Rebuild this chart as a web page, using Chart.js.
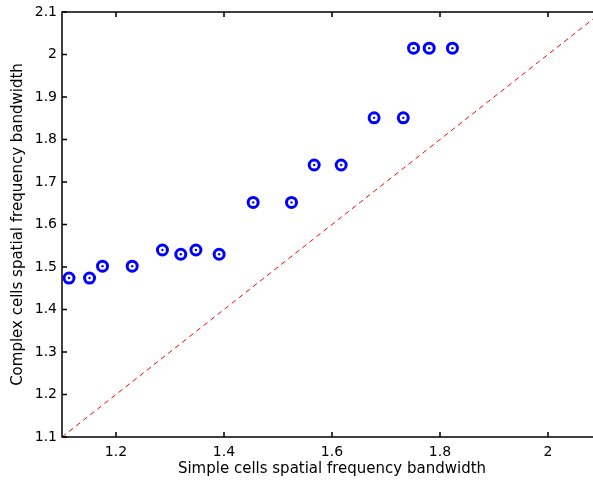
<!DOCTYPE html>
<html>
<head>
<meta charset="utf-8">
<script src="https://cdn.jsdelivr.net/npm/chart.js@4"></script>
<style>
  html, body { margin: 0; padding: 0; background: #fff; overflow: hidden; }
  #wrap { width: 593px; height: 480px; overflow: hidden; }
  canvas { display: block; }
</style>
</head>
<body>
<!-- axes run to x = 2.1, a bit past the visible right edge -->
<div id="wrap"><canvas id="myChart" width="602" height="480" style="width:602px;height:480px"></canvas></div>
<script>
// bandwidth pairs
const simpleBw = [1.113, 1.151, 1.175, 1.230, 1.286, 1.320, 1.348, 1.391, 1.454, 1.525, 1.567, 1.617, 1.678, 1.732, 1.751, 1.780, 1.823]
const complexBw = [1.474, 1.474, 1.502, 1.502, 1.540, 1.530, 1.540, 1.530, 1.652, 1.652, 1.740, 1.740, 1.851, 1.851, 2.015, 2.015, 2.015]
const diagonal = [1.1, 2.1]
const xTicks = [1.2, 1.4, 1.6, 1.8, 2]
const yTicks = [1.1, 1.2, 1.3, 1.4, 1.5, 1.6, 1.7, 1.8, 1.9, 2, 2.1]

const fontFamily = "'DejaVu Sans', sans-serif"

const points = simpleBw.map((x, i) => ({ x: x, y: complexBw[i] }))
const diagPoints = diagonal.map(v => ({ x: v, y: v }))

// matlab style box with inward ticks
const boxPlugin = {
    id: "box",
    afterDraw(chart) {
        const ctx = chart.ctx
        const area = chart.chartArea
        const xs = chart.scales.x
        const ys = chart.scales.y
        const len = 5
        ctx.save()
        ctx.strokeStyle = "#000"
        ctx.lineWidth = 1.5
        ctx.beginPath()
        xTicks.forEach(v => {
            const px = xs.getPixelForValue(v)
            ctx.moveTo(px, area.bottom)
            ctx.lineTo(px, area.bottom - len)
            ctx.moveTo(px, area.top)
            ctx.lineTo(px, area.top + len)
        })
        yTicks.forEach(v => {
            const py = ys.getPixelForValue(v)
            ctx.moveTo(area.left, py)
            ctx.lineTo(area.left + len, py)
            ctx.moveTo(area.right, py)
            ctx.lineTo(area.right - len, py)
        })
        ctx.stroke()
        ctx.strokeRect(area.left, area.top, area.right - area.left, area.bottom - area.top)
        ctx.restore()
    }
}

function fmt(v) {
    return String(Number(v.toFixed(1)))
}

new Chart("myChart", {
    type: "scatter",
    data: {
        datasets: [{
            data: diagPoints,
            showLine: true,
            borderColor: "#ff0000",
            borderWidth: 1,
            borderDash: [5, 4],
            pointRadius: 0,
            order: 3
        }, {
            data: points,
            pointStyle: "circle",
            pointRadius: 5,
            borderColor: "#0000ff",
            backgroundColor: "#ffffff",
            borderWidth: 3,
            order: 2
        }, {
            data: points,
            pointRadius: 1.2,
            borderWidth: 0,
            backgroundColor: "#0000ff",
            order: 1
        }]
    },
    options: {
        responsive: false,
        animation: false,
        devicePixelRatio: 1,
        layout: { autoPadding: false, padding: { top: 12, right: 0, left: 0, bottom: 0 } },
        plugins: {
            legend: { display: false },
            tooltip: { enabled: false }
        },
        scales: {
            x: {
                type: "linear",
                min: 1.1,
                max: 2.1,
                grid: { display: false, drawTicks: false },
                border: { display: false },
                afterBuildTicks: s => { s.ticks = xTicks.map(v => ({ value: v })) },
                afterFit: s => {
                    s.height = 43
                    s.paddingLeft = 0
                    s.paddingRight = 0
                },
                ticks: {
                    color: "#000",
                    font: { family: fontFamily, size: 14 },
                    padding: 7,
                    maxRotation: 0,
                    autoSkip: false,
                    callback: v => fmt(v)
                },
                title: {
                    display: true,
                    text: "Simple cells spatial frequency bandwidth",
                    color: "#000",
                    font: { family: fontFamily, size: 15 },
                    padding: { top: 0, bottom: 2 }
                }
            },
            y: {
                type: "linear",
                min: 1.1,
                max: 2.1,
                grid: { display: false, drawTicks: false },
                border: { display: false },
                afterBuildTicks: s => { s.ticks = yTicks.map(v => ({ value: v })) },
                afterFit: s => {
                    s.width = 62
                    s.paddingTop = 0
                    s.paddingBottom = 0
                },
                ticks: {
                    color: "#000",
                    font: { family: fontFamily, size: 14 },
                    padding: 5,
                    autoSkip: false,
                    callback: v => fmt(v)
                },
                title: {
                    display: true,
                    text: "Complex cells spatial frequency bandwidth",
                    color: "#000",
                    font: { family: fontFamily, size: 15 },
                    padding: { top: 9, bottom: 0 }
                }
            }
        }
    },
    plugins: [boxPlugin]
})
</script>
</body>
</html>
